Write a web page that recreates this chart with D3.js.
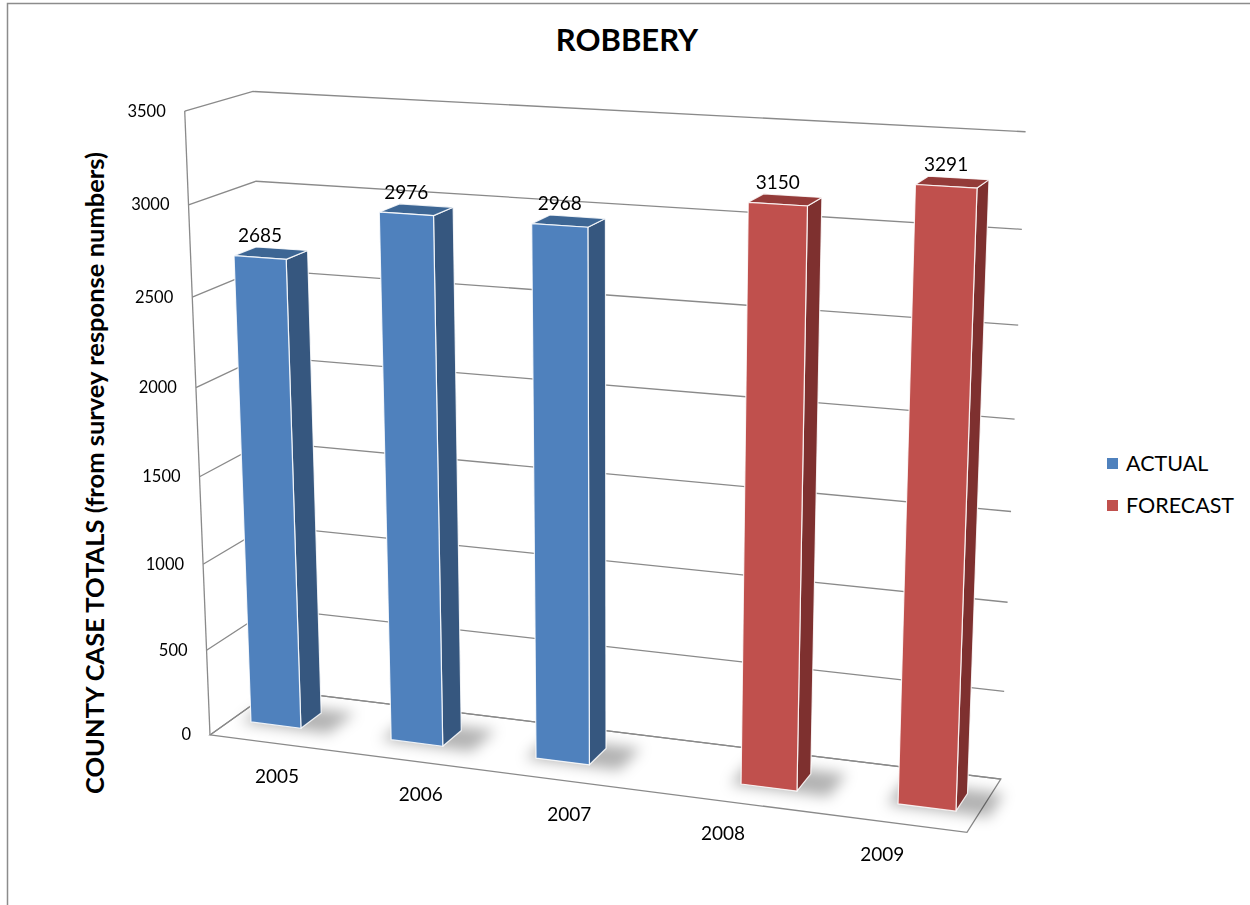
<!DOCTYPE html>
<html>
<head>
<meta charset="utf-8">
<script src="https://cdn.jsdelivr.net/npm/d3@7"></script>
<style>
  body { margin: 0; background: #fff; }
  text { font-family: Lato, "Open Sans", sans-serif; fill: #000; }
</style>
</head>
<body>
<svg id="chart" width="1250" height="905"></svg>
<script>
// ---- data ----
const years = ["2005", "2006", "2007", "2008", "2009"];
const seriesNames = ["ACTUAL", "FORECAST"];
const actualValues = [2685, 2976, 2968, null, null];
const forecastValues = [null, null, null, 3150, 3291];
const valueTicks = [0, 500, 1000, 1500, 2000, 2500, 3000, 3500];
const chartTitle = "ROBBERY";
const valueAxisTitle = "COUNTY CASE TOTALS (from survey response numbers)";

// ---- styling ----
const seriesColors = [
  { front: "#4F81BD", side: "#36577F", top: "#3D6694" },
  { front: "#C0504D", side: "#7E302F", top: "#943B39" }
];
const gridColor = "#8a8a8a";

// ---- 3D space: x = position across categories [0,1], value, depth [0,1] (0 = front) ----
const xBand = d3.scaleBand().domain(years).range([0, 1]).paddingInner(0.28).paddingOuter(0.14);
const xSeries = d3.scaleBand().domain(d3.range(seriesNames.length)).range([0, xBand.bandwidth()]);
const yValue = d3.scaleLinear().domain([0, 3500]).range([0, 1]);
const depthFront = 1 / 3, depthBack = 2 / 3;

// Camera fitted to the corners of the plot box (x, value, depth) -> screen
const boxCorners = [
  [[0, 3500, 0], [185, 110.7]],
  [[0, 3500, 1], [252.7, 91.7]],
  [[1, 3500, 1], [1025.7, 132]],
  [[1, 3000, 1], [1021.7, 229]],
  [[1, 500, 1], [1004.3, 692]],
  [[1, 0, 1], [1001, 778.3]],
  [[0, 0, 0], [210, 735]],
  [[1, 0, 0], [966.7, 832.7]]
];

function solveCamera(pairs) {
  const rows = [], rhs = [];
  pairs.forEach(([[x, val, z], [u, v]]) => {
    const y = yValue(val);
    rows.push([x, y, z, 1, 0, 0, 0, 0, -u * x, -u * y, -u * z]); rhs.push(u);
    rows.push([0, 0, 0, 0, x, y, z, 1, -v * x, -v * y, -v * z]); rhs.push(v);
  });
  const n = 11;
  const M = Array.from({ length: n }, () => new Array(n + 1).fill(0));
  rows.forEach((r, k) => {
    for (let i = 0; i < n; i++) {
      for (let j = 0; j < n; j++) M[i][j] += r[i] * r[j];
      M[i][n] += r[i] * rhs[k];
    }
  });
  for (let c = 0; c < n; c++) {
    let piv = c;
    for (let r = c + 1; r < n; r++) if (Math.abs(M[r][c]) > Math.abs(M[piv][c])) piv = r;
    [M[c], M[piv]] = [M[piv], M[c]];
    for (let r = 0; r < n; r++) {
      if (r === c) continue;
      const f = M[r][c] / M[c][c];
      for (let j = c; j <= n; j++) M[r][j] -= f * M[c][j];
    }
  }
  return M.map((row, i) => row[n] / row[i]);
}
const P = solveCamera(boxCorners);
function project(x, val, z) {
  const y = yValue(val);
  const w = P[8] * x + P[9] * y + P[10] * z + 1;
  return [(P[0] * x + P[1] * y + P[2] * z + P[3]) / w,
          (P[4] * x + P[5] * y + P[6] * z + P[7]) / w];
}
const poly = pts => pts.map(p => project(...p).join(",")).join(" ");

// ---- drawing ----
const svg = d3.select("#chart");
const defs = svg.append("defs");
defs.append("filter").attr("id", "floorShadow").attr("x", "-50%").attr("y", "-50%")
  .attr("width", "200%").attr("height", "200%")
  .append("feGaussianBlur").attr("stdDeviation", 7);

// chart border
svg.append("rect").attr("x", 7.5).attr("y", 3.5).attr("width", 1400).attr("height", 1000)
  .attr("fill", "none").attr("stroke", "#8c8c8c").attr("stroke-width", 1.5);

// title
svg.append("text").attr("x", 627).attr("y", 51).attr("text-anchor", "middle")
  .attr("font-size", 31).attr("font-weight", "bold").text(chartTitle);

const plot = svg.append("g");

// floor
plot.append("polygon")
  .attr("points", poly([[0, 0, 0], [1, 0, 0], [1, 0, 1], [0, 0, 1]]))
  .attr("fill", "#fff").attr("stroke", gridColor).attr("stroke-width", 1.3);

// gridlines on side wall and back wall
const grid = plot.append("g").attr("fill", "none").attr("stroke", gridColor).attr("stroke-width", 1.3);
valueTicks.forEach(v => {
  grid.append("polyline").attr("points", poly([[0, v, 0], [0, v, 1], [1, v, 1]]));
});
grid.append("line")
  .attr("x1", project(0, 0, 0)[0]).attr("y1", project(0, 0, 0)[1])
  .attr("x2", project(0, 3500, 0)[0]).attr("y2", project(0, 3500, 0)[1]);

// value tick labels
const yLabels = svg.append("g").attr("font-size", 16.5).attr("text-anchor", "end");
valueTicks.forEach(v => {
  const [px, py] = project(0, v, 0);
  yLabels.append("text").attr("x", px - 19).attr("y", py + 5.5).text(v);
});

// category labels
const xLabels = svg.append("g").attr("font-size", 19).attr("text-anchor", "middle");
years.forEach(yr => {
  const [px, py] = project(xBand(yr) + xBand.bandwidth() / 2, 0, 0);
  xLabels.append("text").attr("x", px - 3).attr("y", py + 39).text(yr);
});

// bars
const bars = [];
[actualValues, forecastValues].forEach((vals, s) => {
  vals.forEach((v, i) => {
    if (v == null) return;
    const x0 = xBand(years[i]) + xSeries(s), x1 = x0 + xSeries.bandwidth();
    bars.push({ s, v, x0, x1 });
  });
});

const shadows = plot.append("g").attr("filter", "url(#floorShadow)");
bars.forEach(b => {
  const e = 0.012;
  shadows.append("polygon")
    .attr("points", poly([[b.x0 - e, 0, depthFront - 0.03], [b.x1 + e * 3.5, 0, depthFront - 0.03],
                          [b.x1 + e * 3.5, 0, depthBack + 0.08], [b.x0 - e, 0, depthBack + 0.08]]))
    .attr("fill", "#000").attr("opacity", 0.3);
});

const barG = plot.append("g").attr("stroke", "rgba(255,255,255,0.85)").attr("stroke-width", 1.2)
  .attr("stroke-linejoin", "round");
bars.forEach(b => {
  const c = seriesColors[b.s];
  barG.append("polygon").attr("fill", c.side)
    .attr("points", poly([[b.x1, 0, depthFront], [b.x1, 0, depthBack], [b.x1, b.v, depthBack], [b.x1, b.v, depthFront]]));
  barG.append("polygon").attr("fill", c.top)
    .attr("points", poly([[b.x0, b.v, depthFront], [b.x1, b.v, depthFront], [b.x1, b.v, depthBack], [b.x0, b.v, depthBack]]));
  barG.append("polygon").attr("fill", c.front)
    .attr("points", poly([[b.x0, 0, depthFront], [b.x1, 0, depthFront], [b.x1, b.v, depthFront], [b.x0, b.v, depthFront]]));
});

// data labels
const dataLabels = svg.append("g").attr("font-size", 19).attr("text-anchor", "middle");
bars.forEach(b => {
  const [px, py] = project((b.x0 + b.x1) / 2, b.v, depthFront);
  dataLabels.append("text").attr("x", px).attr("y", py - 15).text(b.v);
});

// value axis title
svg.append("text")
  .attr("transform", "translate(104,473) rotate(-90)")
  .attr("text-anchor", "middle").attr("font-size", 25.5).attr("font-weight", "bold")
  .text(valueAxisTitle);

// legend
const legend = svg.append("g").attr("font-size", 21.5);
seriesNames.forEach((name, i) => {
  const y = 463 + i * 42;
  legend.append("rect").attr("x", 1107).attr("y", y - 5).attr("width", 11).attr("height", 11)
    .attr("fill", seriesColors[i].front);
  legend.append("text").attr("x", 1126).attr("y", y + 8).text(name);
});
</script>
</body>
</html>
